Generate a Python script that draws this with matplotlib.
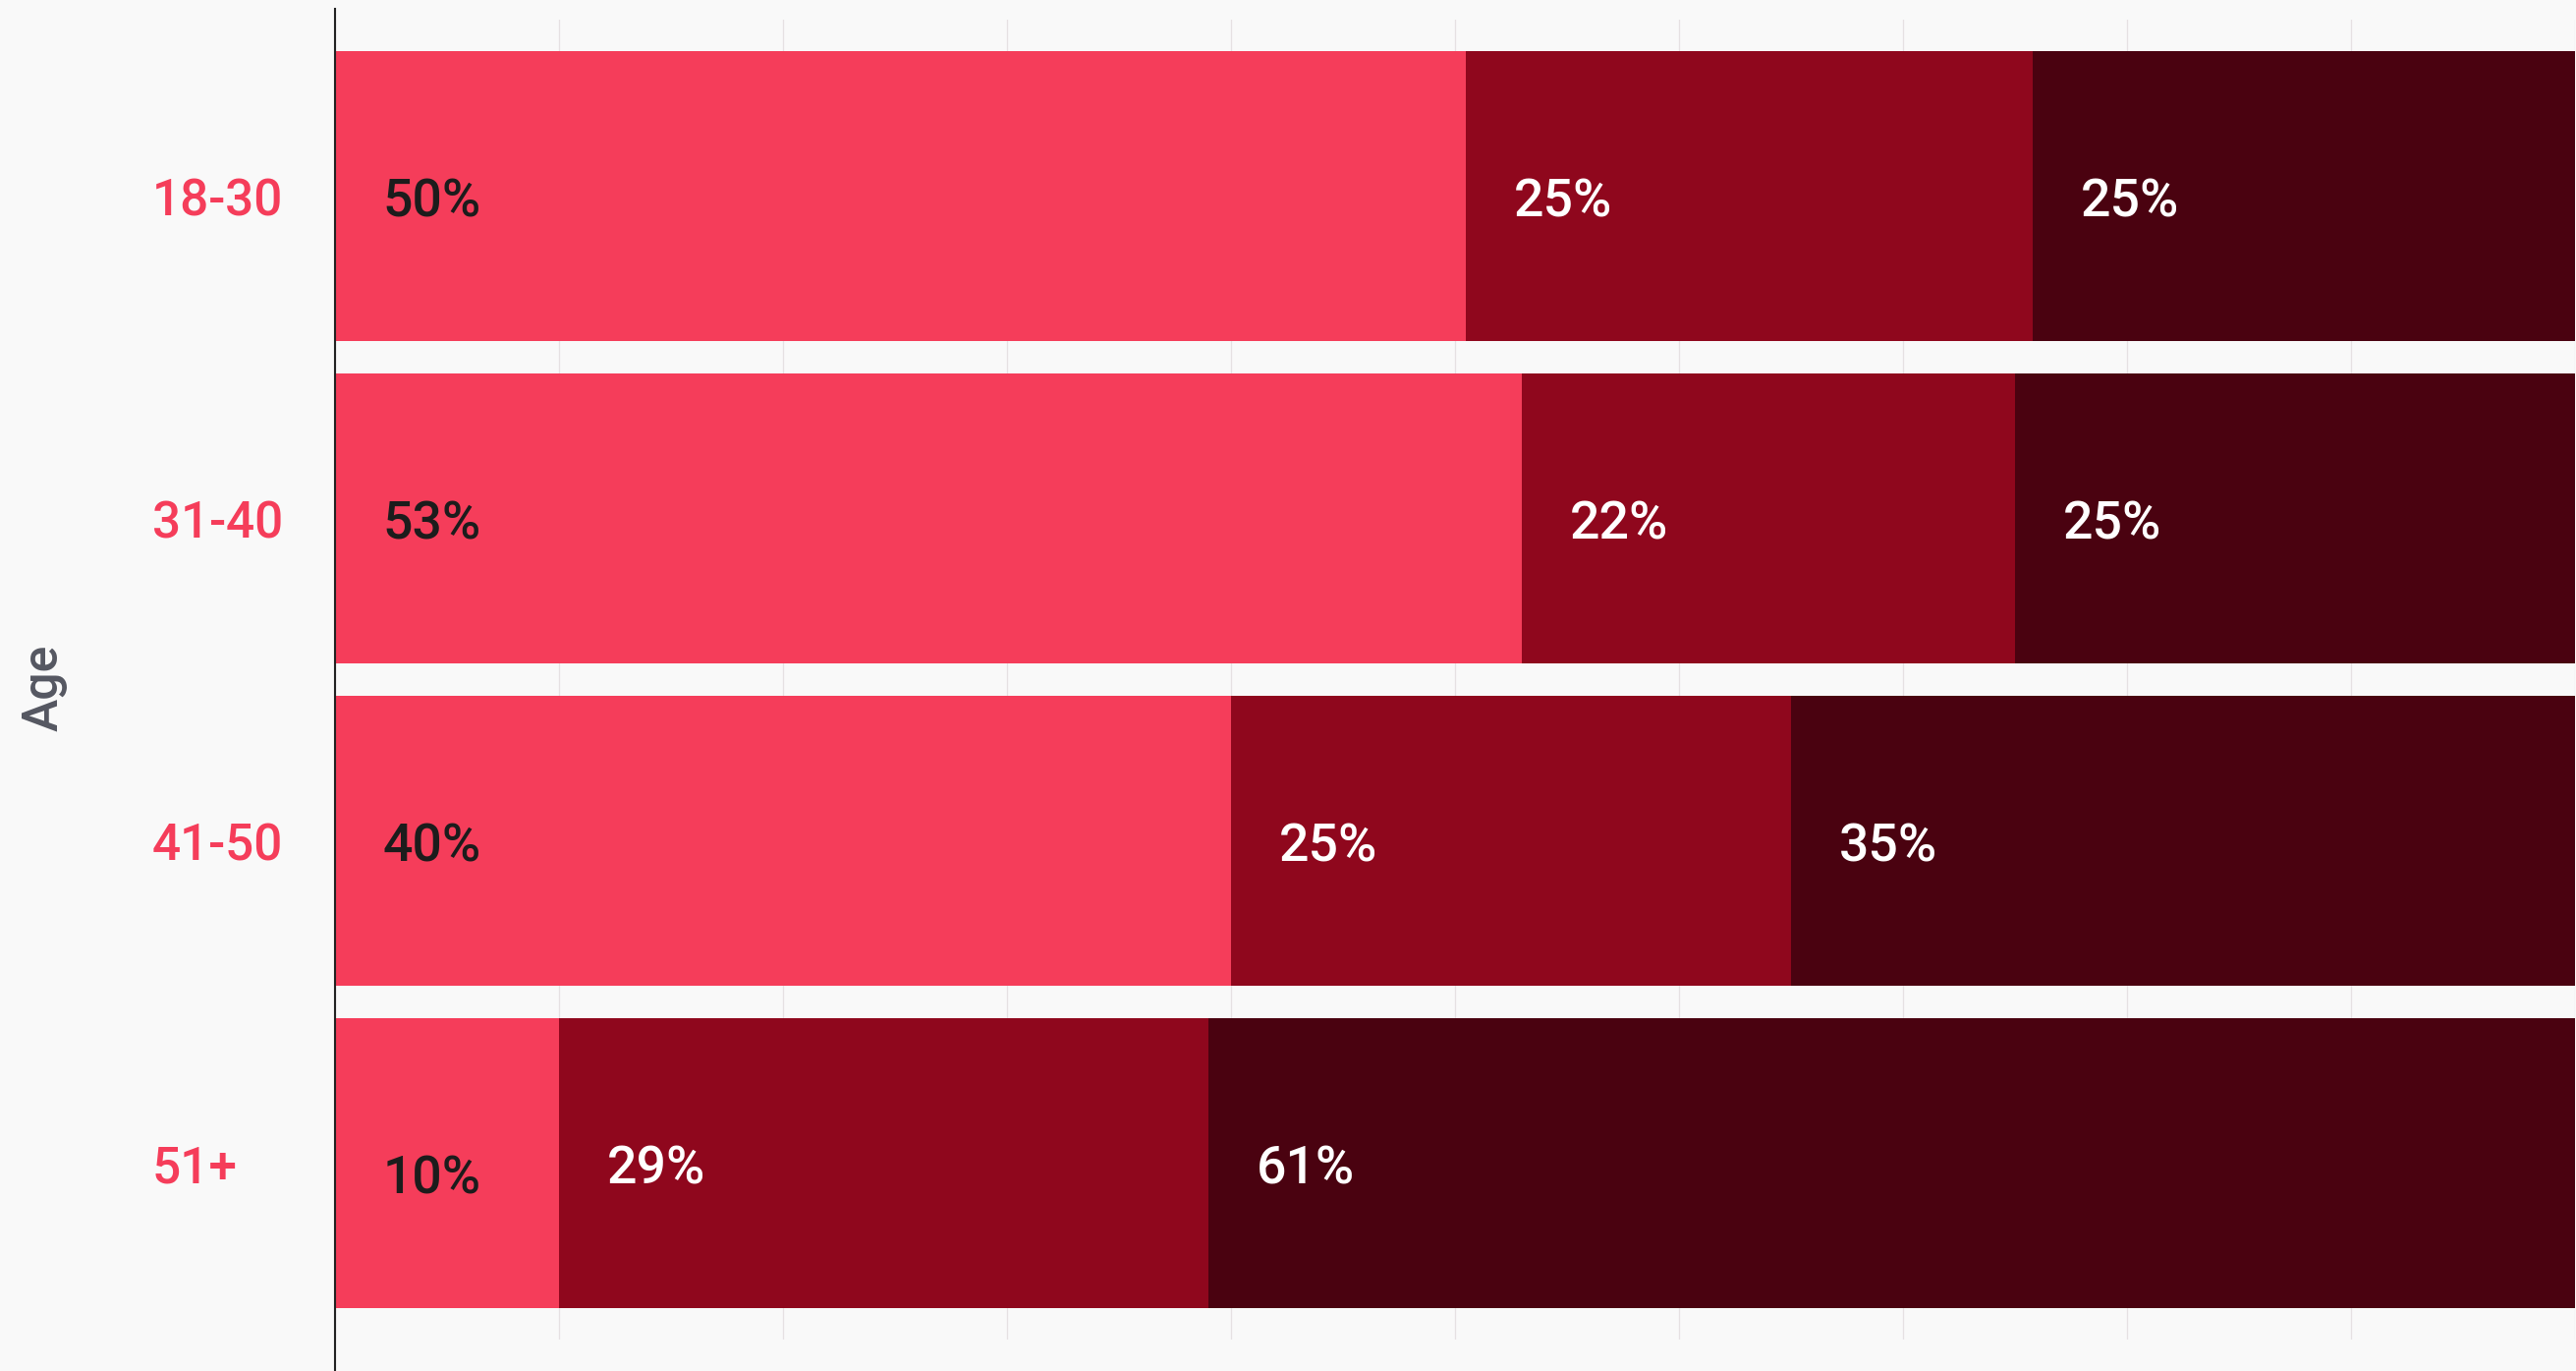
import matplotlib
matplotlib.use("Agg")
import matplotlib.pyplot as plt
import numpy as np

plt.rcParams['font.family'] = ['Roboto', 'DejaVu Sans']

ages = ['18-30', '31-40', '41-50', '51+']
share_a = [50.5, 53.0, 40.0, 10.0]
share_b = [25.3, 22.0, 25.0, 29.0]
share_c = [24.6, 25.0, 35.0, 61.0]
xticks = list(range(0, 101, 10))

colors = ['#F53D5A', '#8F071D', '#4A0210']
text_colors = ['#1C1C1C', 'white', 'white']
bg = '#F9F9F9'

fig = plt.figure(figsize=(26.22, 13.95), dpi=100, facecolor=bg)
ax = fig.add_axes([341 / 2622, 32 / 1395, 2280 / 2622, 1343 / 1395])
ax.set_facecolor(bg)

ypos = np.arange(len(ages))
left = np.zeros(len(ages))
for vals, col, tcol in zip([share_a, share_b, share_c], colors, text_colors):
    ax.barh(ypos, vals, left=left, height=0.9, color=col, linewidth=0, zorder=2)
    for i, v in enumerate(vals):
        # the 10% label sits a little lower in the original
        dy = -11.5 if (col == colors[0] and ages[i] == '51+') else -4.5
        ax.annotate(f"{v:.0f}%", (left[i], ypos[i]), xytext=(35, dy),
                    textcoords='offset points', ha='left', va='center',
                    fontsize=38.5, fontweight='medium', color=tcol, zorder=3,
                    annotation_clip=False)
    left = left + np.array(vals)

ax.set_xlim(0, 100)
ax.set_ylim(3.547, -0.548)
ax.set_xticks(xticks)
ax.set_xticklabels([])
ax.tick_params(axis='x', length=0)
ax.grid(axis='x', color='#E6E1E3', linewidth=0.9, zorder=0)
ax.set_axisbelow(True)

ax.set_yticks(ypos)
ax.set_yticklabels(ages, fontsize=37, fontweight='medium', color='#F53D5A', ha='left')
ax.tick_params(axis='y', length=0, pad=134)

for s in ax.spines.values():
    s.set_visible(False)
ax.axvline(0, ymin=-0.03, ymax=1.0082, color='#222222', linewidth=1.5,
           clip_on=False, zorder=4)

fig.text(45 / 2622, 1 - 700 / 1395, 'Age', rotation=90, ha='center', va='center',
         fontsize=36, fontweight='medium', color='#555761')

fig.savefig('out.png', dpi=100, facecolor=bg)
